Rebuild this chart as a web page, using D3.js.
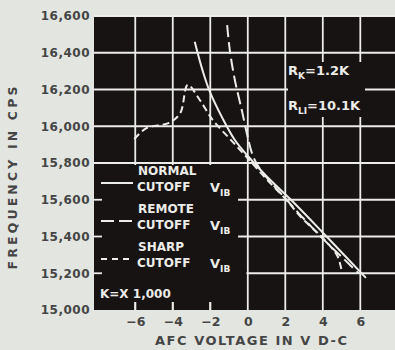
<!DOCTYPE html>
<html>
<head>
<meta charset="utf-8">
<script src="https://cdn.jsdelivr.net/npm/d3@7"></script>
<style>
  html, body { margin: 0; padding: 0; background: #e3e5e1; }
  svg { display: block; }
  text { font-family: "DejaVu Sans", sans-serif; font-weight: bold; }
</style>
</head>
<body>
<svg id="chart" width="395" height="350"></svg>
<script>
// AFC voltage (V d-c) tick values and frequency (cps) tick values
const voltTicks = [-6, -4, -2, 0, 2, 4, 6];
const freqTicks = [15000, 15200, 15400, 15600, 15800, 16000, 16200, 16400, 16600];

// Normal cutoff V_IB tube
const normalVolts = [-2.83, -2.4, -2.03, -1.33, -0.69, 0, 1, 2.5, 4.2, 6.3];
const normalFreq  = [16460, 16300, 16190, 16040, 15925, 15838, 15728, 15580, 15400, 15175];

// Remote cutoff V_IB tube
const remoteVolts = [-1.1, -0.96, -0.69, -0.32, -0.05, 0.25, 0.6, 1, 2, 3, 4.2, 5.2, 5.9];
const remoteFreq  = [16550, 16415, 16252, 16088, 15962, 15845, 15775, 15722, 15608, 15495, 15368, 15270, 15200];

// Sharp cutoff V_IB tube
const sharpVolts = [-6.05, -5.4, -4.2, -3.6, -3.2, -2.56, -1.87, -0.96, 0, 1, 2, 2.88, 3.84, 4.5, 4.8, 5.0];
const sharpFreq  = [15930, 15990, 16018, 16072, 16225, 16143, 16034, 15932, 15825, 15712, 15606, 15501, 15408, 15335, 15290, 15218];

const svg = d3.select("#chart");
const ink = "#ecece8";
const panel = "#181313";
const labelInk = "#454545";

const x = d3.scaleLinear().domain([-8.2, 7.85]).range([94, 395]);
const y = d3.scaleLinear().domain([15000, 16600]).range([310, 16]);

// dark plotting panel
svg.append("rect")
  .attr("x", x(-8.2)).attr("y", 15)
  .attr("width", x(7.85) - x(-8.2)).attr("height", y(15000) - 15)
  .attr("fill", panel);

// grid
const grid = svg.append("g").attr("stroke", ink).attr("stroke-width", 1.8);
grid.selectAll("line.h").data(freqTicks.filter(f => f > 15000)).join("line")
  .attr("x1", x(-8.2)).attr("x2", x(7.85))
  .attr("y1", d => y(d)).attr("y2", d => y(d));
grid.selectAll("line.v").data(voltTicks).join("line")
  .attr("x1", d => x(d)).attr("x2", d => x(d))
  .attr("y1", 15).attr("y2", y(15000));

// blank panels behind the legend and the resistor note
svg.append("rect").attr("x", x(-8.2)).attr("y", 165)
  .attr("width", x(-0.52) - x(-8.2)).attr("height", 137).attr("fill", panel);
svg.append("rect").attr("x", x(-0.52) - 1).attr("y", y(15200) - 3)
  .attr("width", x(-0.02) - x(-0.52)).attr("height", 6).attr("fill", panel);
svg.append("rect").attr("x", 288).attr("y", 62)
  .attr("width", 77).attr("height", 55).attr("fill", panel);

// short ticks at the edge of the legend panel
const edgeTicks = svg.append("g").attr("stroke", ink).attr("stroke-width", 1.8);
edgeTicks.selectAll("line.l").data([15600, 15400, 15200]).join("line")
  .attr("x1", x(-8.2)).attr("x2", x(-8.2) + 8)
  .attr("y1", d => y(d)).attr("y2", d => y(d));
edgeTicks.selectAll("line.b").data([-6, -4, -2]).join("line")
  .attr("x1", d => x(d)).attr("x2", d => x(d))
  .attr("y1", y(15000) - 8).attr("y2", y(15000));

// curves
const line = d3.line().x(d => x(d[0])).y(d => y(d[1])).curve(d3.curveCatmullRom.alpha(0.5));
const curves = [
  { v: normalVolts, f: normalFreq, dash: null },
  { v: remoteVolts, f: remoteFreq, dash: "12,5" },
  { v: sharpVolts,  f: sharpFreq,  dash: "7,4" }
];
svg.append("g").selectAll("path").data(curves).join("path")
  .attr("d", c => line(c.v.map((v, i) => [v, c.f[i]])))
  .attr("fill", "none")
  .attr("stroke", ink)
  .attr("stroke-width", 2)
  .attr("stroke-dasharray", c => c.dash);

// axes
const fmtFreq = d3.format(",");
const yAxis = svg.append("g")
  .attr("transform", `translate(${x(-8.2)},0)`)
  .call(d3.axisLeft(y).tickValues(freqTicks).tickSize(0).tickPadding(4).tickFormat(fmtFreq));
yAxis.select(".domain").remove();
yAxis.selectAll("text")
  .attr("fill", labelInk).attr("font-size", 12)
  .attr("font-family", "DejaVu Sans").attr("font-weight", "bold")
  .attr("letter-spacing", 0.5);

const xAxis = svg.append("g")
  .attr("transform", `translate(0,${y(15000)})`)
  .call(d3.axisBottom(x).tickValues(voltTicks).tickSize(0).tickPadding(7.5).tickFormat(d3.format("d")));
xAxis.select(".domain").remove();
xAxis.selectAll("text")
  .attr("fill", labelInk).attr("font-size", 12.5)
  .attr("font-family", "DejaVu Sans").attr("font-weight", "bold");

// axis titles
svg.append("text")
  .attr("x", 251).attr("y", 345)
  .attr("text-anchor", "middle")
  .attr("font-size", 13).attr("fill", labelInk)
  .attr("textLength", 192).attr("lengthAdjust", "spacing")
  .text("AFC VOLTAGE IN V D-C");

svg.append("text")
  .attr("transform", "translate(17,178) rotate(-90)")
  .attr("text-anchor", "middle")
  .attr("font-size", 12.5).attr("fill", labelInk)
  .attr("textLength", 183).attr("lengthAdjust", "spacing")
  .text("FREQUENCY IN CPS");

// resistor note
function subLabel(xp, yp, main, sub, rest) {
  const t = svg.append("text").attr("x", xp).attr("y", yp)
    .attr("font-size", 13).attr("fill", ink);
  t.append("tspan").text(main);
  t.append("tspan").attr("font-size", 9).attr("dy", 4).text(sub);
  t.append("tspan").attr("dy", -4).text(rest);
  return t;
}
subLabel(288, 75, "R", "K", "=1.2K");
subLabel(288, 110, "R", "LI", "=10.1K");

// legend
const legendRows = [
  { top: "NORMAL", y: 175, dash: null },
  { top: "REMOTE", y: 213, dash: "13,5" },
  { top: "SHARP",  y: 251, dash: "6,5" }
];
const lg = svg.append("g");
legendRows.forEach(r => {
  lg.append("text").attr("x", 138).attr("y", r.y)
    .attr("font-size", 12).attr("fill", ink).text(r.top);
  lg.append("text").attr("x", 137).attr("y", r.y + 16)
    .attr("font-size", 12).attr("fill", ink).text("CUTOFF");
  subLabel(210, r.y + 17, "V", "IB", "");
  lg.append("line")
    .attr("x1", 101).attr("x2", 133)
    .attr("y1", r.y + 8).attr("y2", r.y + 8)
    .attr("stroke", ink).attr("stroke-width", 2)
    .attr("stroke-dasharray", r.dash);
});
lg.append("text").attr("x", 100).attr("y", 298)
  .attr("font-size", 12).attr("fill", ink).text("K=X 1,000");
</script>
</body>
</html>
